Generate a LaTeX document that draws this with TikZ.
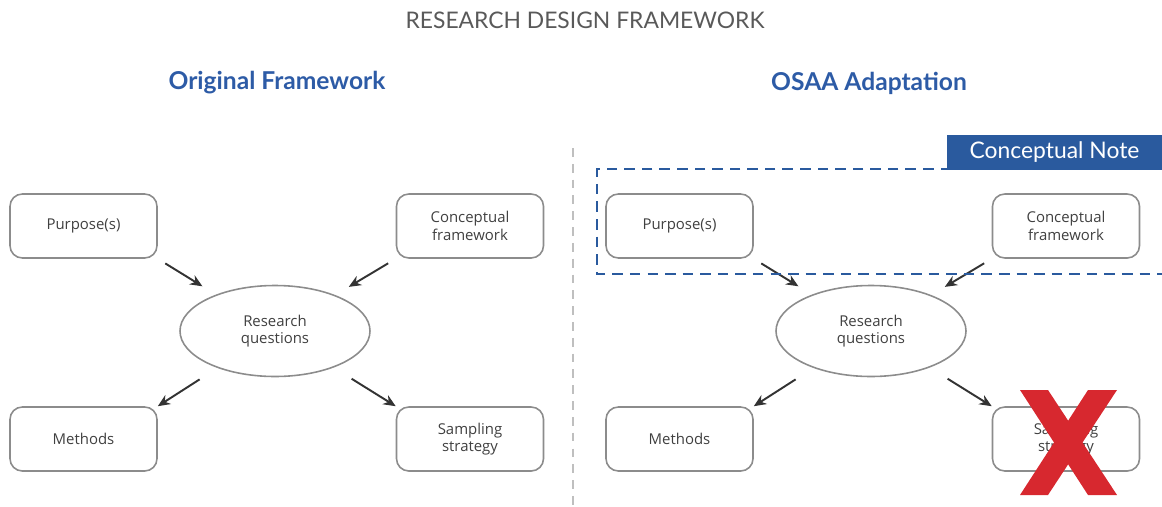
\documentclass[tikz,border=0pt]{standalone}
\usepackage{fontspec}
\setmainfont{Open Sans}
\newfontfamily\headfont{Lato}
\usepackage{tikz}
\usetikzlibrary{arrows.meta,shapes.geometric}
\definecolor{framegray}{HTML}{8C8C8C}
\definecolor{headblue}{HTML}{2D5BA6}
\definecolor{noteblue}{HTML}{2A5A9E}
\definecolor{crossred}{HTML}{D7282F}

\begin{document}
\begin{tikzpicture}[
  box/.style={draw=framegray, line width=0.9pt, rounded corners=7pt,
              minimum width=2.94cm, minimum height=1.28cm, align=center,
              text=black!75, font=\fontsize{8.5}{10}\selectfont},
  oval/.style={draw=framegray, line width=0.9pt, ellipse,
               minimum width=3.8cm, minimum height=1.82cm, align=center,
               text=black!75, font=\fontsize{8.5}{10}\selectfont},
  arr/.style={-{Stealth[length=7pt,width=6pt]}, line width=1.1pt, black!80,
              shorten <=5pt},
  head/.style={font=\headfont\bfseries\fontsize{14}{16}\selectfont, text=headblue}
]
\useasboundingbox (0,0) rectangle (23.24,10.12);

\node[font=\headfont\fontsize{13}{15}\selectfont, text=black!65] (title) at (11.70,9.72)
  {RESEARCH DESIGN FRAMEWORK};
\node[head] (orig) at (5.54,8.46) {Original Framework};
\node[head] (osaa) at (17.38,8.46) {OSAA Adaptation};

% divider between the two versions
\draw[black!25, line width=1.3pt, dash pattern=on 5pt off 4pt] (11.46,7.16) -- (11.46,0);

% original framework
\node[box] (purp) at (1.67,5.60) {Purpose(s)};
\node[box] (conc) at (9.40,5.60) {Conceptual\\framework};
\node[oval] (rq) at (5.50,3.50) {Research\\questions};
\node[box] (meth) at (1.67,1.34) {Methods};
\node[box] (samp) at (9.40,1.34) {Sampling\\strategy};
\draw[arr, shorten >=9pt] (purp.south east) -- (rq);
\draw[arr, shorten >=9pt] (conc.south west) -- (rq);
\draw[arr, shorten <=12pt] (rq) -- (meth.north east);
\draw[arr, shorten <=12pt] (rq) -- (samp.north west);

% adapted framework
\node[box] (purp2) at (13.59,5.60) {Purpose(s)};
\node[box] (conc2) at (21.32,5.60) {Conceptual\\framework};
\node[oval] (rq2) at (17.42,3.50) {Research\\questions};
\node[box] (meth2) at (13.59,1.34) {Methods};
\node[box] (samp2) at (21.32,1.34) {Sampling\\strategy};
\draw[arr, shorten >=9pt] (purp2.south east) -- (rq2);
\draw[arr, shorten >=9pt] (conc2.south west) -- (rq2);
\draw[arr, shorten <=12pt] (rq2) -- (meth2.north east);
\draw[arr, shorten <=12pt] (rq2) -- (samp2.north west);

% conceptual note frame
\draw[noteblue, line width=1.6pt, dash pattern=on 6pt off 4pt]
  (23.24,6.74) -- (11.94,6.74) -- (11.94,4.64) -- (23.24,4.64);
\node[fill=noteblue, text=white, minimum width=4.3cm, minimum height=0.7cm,
      inner sep=0pt, font=\headfont\fontsize{13}{15}\selectfont] (note) at (21.09,7.07)
  {Conceptual Note};

% strike-through
\fill[crossred] (20.40,2.32) -- (20.96,2.32) -- (22.34,0.22) -- (21.76,0.22) -- cycle;
\fill[crossred] (21.76,2.32) -- (22.34,2.32) -- (20.96,0.22) -- (20.40,0.22) -- cycle;
\end{tikzpicture}
\end{document}
